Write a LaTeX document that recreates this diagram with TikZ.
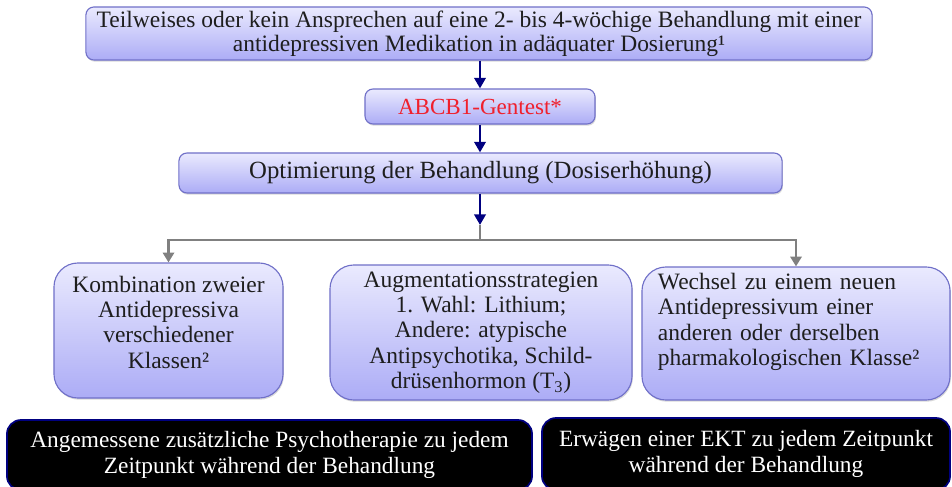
\documentclass[tikz,border=0pt]{standalone}
\usepackage{fontspec}
\setmainfont{Liberation Serif}
\definecolor{lavtop}{RGB}{234,234,254}
\definecolor{lavbot}{RGB}{172,172,246}
\definecolor{lavline}{RGB}{112,112,200}
\definecolor{navy}{RGB}{0,0,128}
\definecolor{genred}{RGB}{240,32,44}
\definecolor{linkgray}{RGB}{128,128,128}
\definecolor{ink}{RGB}{30,30,30}
\usetikzlibrary{positioning,shadows,arrows.meta}

\begin{document}
\begin{tikzpicture}[x=0.025cm,y=-0.025cm,
            card/.style={
                rectangle, rounded corners=0.2cm,
                draw=lavline, line width=0.8pt,
                top color=lavtop, bottom color=lavbot,
                drop shadow={opacity=0.3, shadow xshift=0.6pt, shadow yshift=-1.2pt},
                text=ink, align=center, inner sep=0pt,
                font=\fontsize{16.7}{18}\selectfont
            },
            roundcard/.style={card, rounded corners=0.6cm},
            darkcard/.style={
                rectangle, rounded corners=0.35cm,
                draw=navy, line width=1.2pt, fill=black,
                text=white, align=center, inner sep=0pt,
                font=\fontsize{16.6}{18.5}\selectfont
            },
            flow/.style={draw=navy, line width=2pt, -{Triangle[length=7.5pt,width=8pt]}},
            branch/.style={draw=linkgray, line width=2pt, -{Triangle[length=7pt,width=8pt]}},
        ]
            \useasboundingbox (0,0) rectangle (952,486);
            \clip (0,0) rectangle (952,486);

            \node [card, minimum width=19.65cm, minimum height=1.325cm,
                   font=\fontsize{16.7}{16.8}\selectfont] (start) at (479,33.5)
                {Teilweises oder kein Ansprechen auf eine 2- bis 4-wöchige Behandlung mit einer\\
                 antidepressiven Medikation in adäquater Dosierung¹};
            \node [card, minimum width=5.75cm, minimum height=0.875cm, text=genred,
                   font=\fontsize{16.4}{18}\selectfont] (gentest) at (480,106.5) {ABCB1-Gentest*};
            \node [card, minimum width=15.075cm, minimum height=1cm,
                   font=\fontsize{17.6}{18}\selectfont] (optim) at (480.5,173) {Optimierung der Behandlung (Dosiserhöhung)};

            \node [roundcard, minimum width=5.725cm, minimum height=3.375cm] (kombi) at (168.5,330.5)
                {Kombination zweier\\Antidepressiva\\verschiedener\\Klassen²\rule[-12pt]{0pt}{12pt}};
            \node [roundcard, minimum width=7.55cm, minimum height=3.375cm] (augment) at (481,332.5)
                {Augmentationsstrategien\\1. Wahl: Lithium;\\Andere: atypische\\Antipsychotika, Schild-\\drüsenhormon (T\textsubscript{3})};
            \node [roundcard, minimum width=7.7cm, minimum height=3.325cm, text width=6.9cm, align=left] (wechsel) at (796,333.5)
                {Wechsel zu einem neuen\\Antidepressivum einer\\anderen oder derselben\\pharmakologischen Klasse²\rule[-20pt]{0pt}{20pt}};

            \node [darkcard, minimum width=13.125cm, minimum height=1.75cm] (psycho) at (269.5,455)
                {Angemessene zusätzliche Psychotherapie zu jedem\\Zeitpunkt während der Behandlung};
            \node [darkcard, minimum width=10.2cm, minimum height=1.8cm] (ekt) at (746,454)
                {Erwägen einer EKT zu jedem Zeitpunkt\\während der Behandlung};

            \coordinate (navyend) at (480,225);
            \coordinate (hinge) at (480,240);

            \draw[flow] (gentest.north |- start.south) -- (gentest.north);
            \draw[flow] (gentest.south) -- (gentest.south |- optim.north);
            \draw[draw=linkgray, line width=2pt] (navyend) -- (hinge);
            \draw[flow] (optim.south -| navyend) -- (navyend);
            \draw[branch] (hinge) -| (kombi.north);
            \draw[branch] (hinge) -| (wechsel.north);

        \end{tikzpicture}
\end{document}
